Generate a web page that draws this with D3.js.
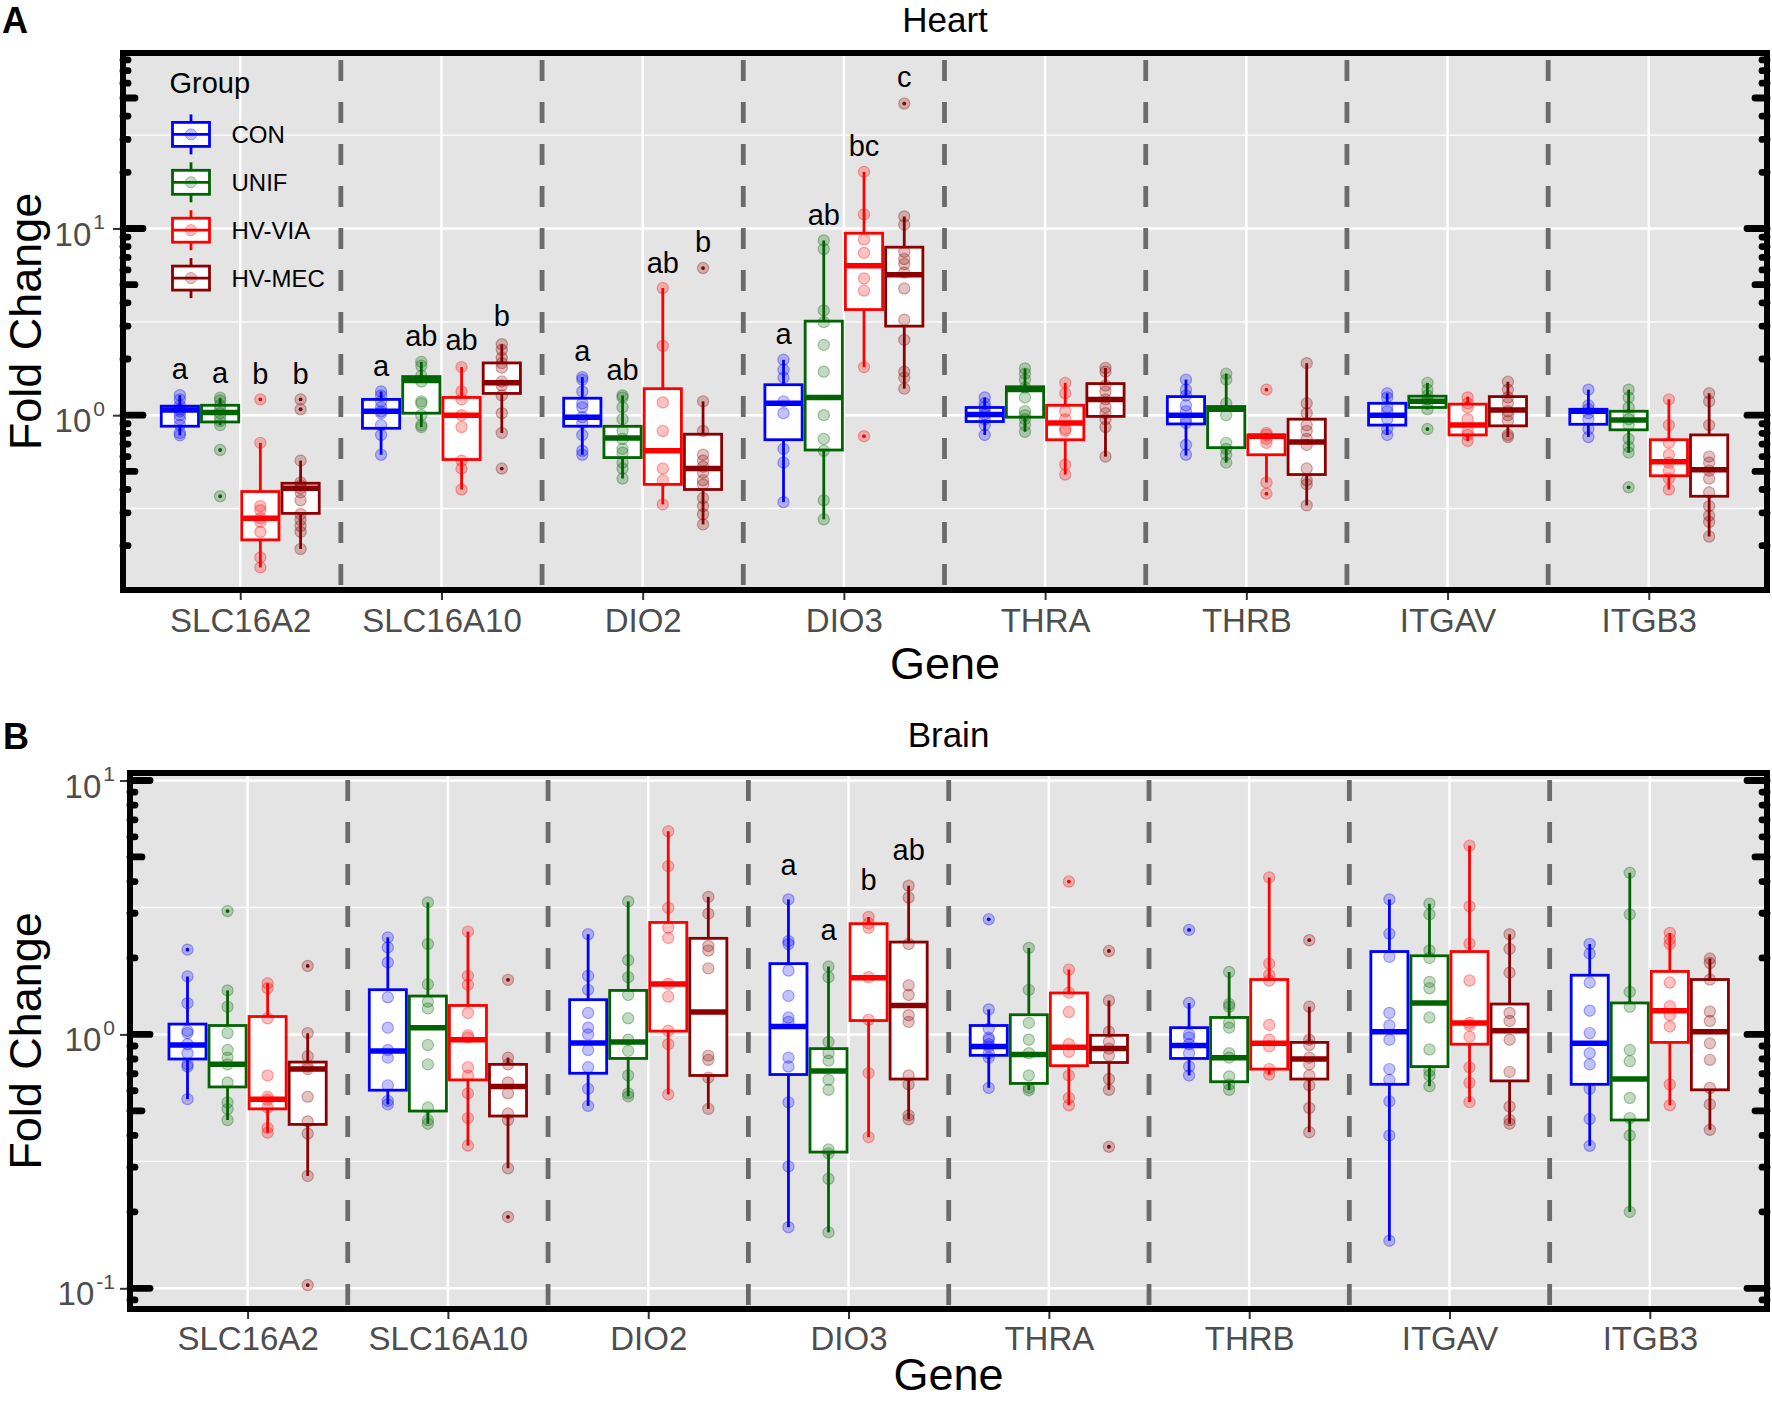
<!DOCTYPE html>
<html>
<head>
<meta charset="utf-8">
<script src="https://cdn.jsdelivr.net/npm/d3@7"></script>
<style>
  body { margin: 0; background: #fff; }
  svg { display: block; font-family: "Liberation Sans", Arial, sans-serif; }
</style>
</head>
<body>
<svg id="chart" width="1772" height="1401"></svg>
<script>
// Genes on the x axis and the four treatment groups
const genes = ['SLC16A2', 'SLC16A10', 'DIO2', 'DIO3', 'THRA', 'THRB', 'ITGAV', 'ITGB3'];
const groups = ['CON', 'UNIF', 'HV-VIA', 'HV-MEC'];
const groupColors = ['#0000ff', '#006400', '#ff0000', '#8b0000'];

// Heart: box stats per gene, groups in order, [lower whisker, Q1, median, Q3, upper whisker]
const heartBoxes = [
  [[0.78, 0.873, 1.065, 1.118, 1.28], [0.885, 0.92, 1.035, 1.13, 1.24], [0.153, 0.215, 0.281, 0.39, 0.711], [0.192, 0.298, 0.406, 0.432, 0.571]],
  [[0.614, 0.851, 1.05, 1.215, 1.34], [0.864, 1.025, 1.536, 1.61, 1.93], [0.40, 0.579, 1.0, 1.245, 1.81], [0.803, 1.308, 1.49, 1.905, 2.4]],
  [[0.614, 0.873, 0.976, 1.233, 1.6], [0.458, 0.593, 0.754, 0.872, 1.276], [0.333, 0.426, 0.645, 1.387, 4.8], [0.26, 0.4, 0.518, 0.791, 1.186]],
  [[0.342, 0.739, 1.158, 1.456, 1.98], [0.277, 0.651, 1.245, 3.19, 8.63], [1.81, 3.68, 6.32, 9.43, 20.1], [1.387, 3.0, 5.65, 7.94, 11.6]],
  [[0.784, 0.925, 1.01, 1.10, 1.245], [0.815, 0.976, 1.373, 1.42, 1.78], [0.481, 0.739, 0.907, 1.13, 1.49], [0.60, 0.985, 1.215, 1.477, 1.79]],
  [[0.608, 0.898, 1.0, 1.258, 1.551], [0.557, 0.67, 1.076, 1.113, 1.67], [0.436, 0.614, 0.772, 0.784, 0.803], [0.329, 0.481, 0.718, 0.952, 1.9]],
  [[0.784, 0.885, 1.0, 1.158, 1.31], [1.076, 1.10, 1.186, 1.264, 1.49], [0.728, 0.784, 0.885, 1.146, 1.258], [0.764, 0.877, 1.065, 1.258, 1.51]],
  [[0.764, 0.894, 1.05, 1.076, 1.37], [0.63, 0.835, 0.943, 1.05, 1.37], [0.40, 0.474, 0.563, 0.739, 1.216], [0.224, 0.368, 0.51, 0.784, 1.31]]
];

// Heart: individual samples (fold change)
const heartPoints = [
  [[1.28, 1.216, 1.13, 1.076, 1.05, 1.0, 0.952, 0.885, 0.803, 0.78],
   [1.24, 1.2, 1.13, 1.076, 1.025, 0.976, 0.93, 0.885, 0.651, 0.368],
   [1.215, 0.711, 0.326, 0.31, 0.281, 0.268, 0.237, 0.173, 0.153],
   [1.215, 1.076, 0.571, 0.436, 0.42, 0.406, 0.386, 0.35, 0.295, 0.275, 0.255, 0.237, 0.192]],
  [[1.34, 1.276, 1.186, 1.103, 1.05, 1.025, 0.885, 0.784, 0.614],
   [1.93, 1.84, 1.629, 1.514, 1.186, 1.158, 1.0, 0.885, 0.864],
   [1.81, 1.34, 1.216, 1.0, 0.864, 0.571, 0.518, 0.40],
   [2.4, 2.24, 2.03, 1.9, 1.796, 1.514, 1.442, 1.276, 1.025, 0.803, 0.518]],
  [[1.6, 1.551, 1.34, 1.158, 1.103, 0.976, 0.907, 0.784, 0.645, 0.614],
   [1.276, 1.245, 1.103, 0.952, 0.823, 0.746, 0.66, 0.63, 0.557, 0.518, 0.458],
   [4.8, 2.35, 1.17, 0.823, 0.518, 0.448, 0.333],
   [6.14, 1.186, 0.823, 0.614, 0.571, 0.53, 0.493, 0.448, 0.426, 0.36, 0.326, 0.295, 0.26]],
  [[1.98, 1.75, 1.59, 1.186, 1.025, 0.66, 0.557, 0.342],
   [8.63, 7.76, 3.64, 3.15, 2.38, 1.71, 1.0, 0.746, 0.645, 0.35, 0.277],
   [20.1, 11.9, 8.73, 7.4, 5.4, 4.65, 1.81, 0.772],
   [46.7, 11.6, 10.5, 7.5, 6.86, 6.45, 5.8, 4.77, 3.25, 2.53, 1.71, 1.59, 1.387]],
  [[1.245, 1.158, 1.103, 1.05, 1.01, 0.952, 0.885, 0.784],
   [1.78, 1.67, 1.551, 1.407, 1.245, 1.05, 1.0, 0.952, 0.885, 0.815],
   [1.49, 1.31, 1.05, 0.952, 0.843, 0.823, 0.543, 0.481],
   [1.79, 1.71, 1.442, 1.34, 1.216, 1.103, 1.025, 0.952, 0.864, 0.60]],
  [[1.551, 1.37, 1.276, 1.13, 1.05, 0.952, 0.907, 0.693, 0.614],
   [1.67, 1.551, 1.158, 1.0, 0.711, 0.66, 0.614, 0.557],
   [1.37, 0.803, 0.784, 0.746, 0.711, 0.436, 0.38],
   [1.9, 1.158, 1.025, 0.885, 0.823, 0.746, 0.693, 0.518, 0.448, 0.426, 0.329]],
  [[1.31, 1.245, 1.103, 1.05, 0.952, 0.843, 0.784],
   [1.49, 1.37, 1.276, 1.216, 1.158, 1.076, 0.843],
   [1.245, 1.158, 1.103, 0.952, 0.823, 0.784, 0.728],
   [1.51, 1.37, 1.245, 1.158, 1.05, 1.0, 0.93, 0.784, 0.764]],
  [[1.37, 1.13, 1.076, 1.025, 0.952, 0.843, 0.764],
   [1.37, 1.245, 1.103, 1.0, 0.952, 0.885, 0.746, 0.677, 0.63, 0.411],
   [1.216, 0.885, 0.711, 0.614, 0.557, 0.505, 0.458, 0.40],
   [1.31, 1.186, 0.885, 0.60, 0.557, 0.505, 0.458, 0.386, 0.326, 0.29, 0.268, 0.224]]
];

// Heart: boxplot outliers
const heartOutliers = [
  [[], [0.651, 0.368], [1.215], [1.215, 1.076]],
  [[], [], [], [0.518]],
  [[], [], [], [6.14]],
  [[], [], [0.772], [46.7]],
  [[], [], [], []],
  [[], [], [1.37, 0.38], []],
  [[], [0.843], [], []],
  [[], [0.411], [], []]
];

// Heart: significance letters [gene, group, label, fold change at baseline]
const heartLetters = [
  ['SLC16A2', 'CON', 'a', 1.566], ['SLC16A2', 'UNIF', 'a', 1.492], ['SLC16A2', 'HV-VIA', 'b', 1.463], ['SLC16A2', 'HV-MEC', 'b', 1.463],
  ['SLC16A10', 'CON', 'a', 1.613], ['SLC16A10', 'UNIF', 'ab', 2.35], ['SLC16A10', 'HV-VIA', 'ab', 2.238], ['SLC16A10', 'HV-MEC', 'b', 2.996],
  ['DIO2', 'CON', 'a', 1.961], ['DIO2', 'UNIF', 'ab', 1.551], ['DIO2', 'HV-VIA', 'ab', 5.79], ['DIO2', 'HV-MEC', 'b', 7.46],
  ['DIO3', 'CON', 'a', 2.407], ['DIO3', 'UNIF', 'ab', 10.5], ['DIO3', 'HV-VIA', 'bc', 24.4], ['DIO3', 'HV-MEC', 'c', 57.4]
];

// Brain: box stats
const brainBoxes = [
  [[0.556, 0.80, 0.908, 1.098, 1.69], [0.46, 0.621, 0.762, 1.084, 1.49], [0.41, 0.509, 0.556, 1.176, 1.59], [0.277, 0.442, 0.73, 0.778, 1.01]],
  [[0.53, 0.603, 0.861, 1.50, 2.41], [0.445, 0.499, 1.063, 1.416, 3.31], [0.365, 0.662, 0.952, 1.30, 2.54], [0.297, 0.477, 0.623, 0.762, 0.81]],
  [[0.523, 0.703, 0.926, 1.37, 2.48], [0.57, 0.804, 0.934, 1.49, 3.34], [0.58, 1.03, 1.58, 2.76, 6.31], [0.509, 0.689, 1.224, 2.39, 3.48]],
  [[0.174, 0.695, 1.075, 1.90, 3.40], [0.166, 0.344, 0.718, 0.879, 1.85], [0.394, 1.134, 1.67, 2.73, 2.9], [0.463, 0.667, 1.30, 2.31, 3.85]],
  [[0.616, 0.827, 0.897, 1.084, 1.254], [0.603, 0.641, 0.834, 1.195, 2.19], [0.526, 0.753, 0.889, 1.456, 1.80], [0.605, 0.775, 0.879, 0.992, 1.36]],
  [[0.689, 0.804, 0.904, 1.063, 1.33], [0.605, 0.651, 0.81, 1.166, 1.76], [0.695, 0.73, 0.922, 1.645, 4.15], [0.412, 0.667, 0.80, 0.93, 1.285]],
  [[0.154, 0.636, 1.024, 2.12, 3.4], [0.625, 0.747, 1.33, 2.04, 3.27], [0.541, 0.915, 1.11, 2.12, 5.54], [0.445, 0.656, 1.033, 1.317, 2.48]],
  [[0.364, 0.636, 0.922, 1.71, 2.27], [0.20, 0.46, 0.667, 1.33, 4.33], [0.526, 0.93, 1.24, 1.77, 2.51], [0.421, 0.605, 1.024, 1.645, 1.99]]
];

// Brain: individual samples
const brainPoints = [
  [[2.157, 1.692, 1.327, 1.033, 1.012, 0.915, 0.843, 0.762, 0.747, 0.556],
   [3.06, 1.49, 1.285, 1.012, 0.868, 0.81, 0.762, 0.647, 0.54, 0.508, 0.46],
   [1.59, 1.52, 1.157, 0.689, 0.568, 0.552, 0.515, 0.428, 0.41],
   [1.86, 1.012, 0.82, 0.747, 0.73, 0.568, 0.454, 0.407, 0.277, 0.103]],
  [[2.41, 2.2, 1.92, 1.4, 1.063, 0.868, 0.81, 0.63, 0.547, 0.53],
   [3.31, 2.27, 1.575, 1.345, 1.265, 0.908, 0.762, 0.515, 0.46, 0.445],
   [2.54, 1.7, 1.568, 1.215, 0.992, 0.972, 0.742, 0.689, 0.586, 0.468, 0.365],
   [1.64, 0.81, 0.762, 0.647, 0.586, 0.488, 0.46, 0.297, 0.191]],
  [[2.48, 1.7, 1.498, 1.215, 1.063, 1.0, 0.868, 0.742, 0.61, 0.523],
   [3.34, 1.96, 1.68, 1.43, 1.157, 0.953, 0.861, 0.689, 0.586, 0.57],
   [6.31, 4.6, 3.15, 2.63, 2.4, 1.58, 1.41, 1.033, 0.915, 0.58],
   [3.48, 2.99, 2.23, 2.14, 1.82, 0.825, 0.794, 0.675, 0.509]],
  [[3.4, 2.33, 2.27, 1.785, 1.418, 1.165, 1.12, 0.81, 0.747, 0.54, 0.302, 0.174],
   [1.85, 1.68, 0.934, 0.843, 0.788, 0.662, 0.605, 0.352, 0.34, 0.27, 0.166],
   [2.9, 2.74, 2.63, 1.68, 1.142, 0.704, 0.394],
   [3.85, 3.46, 2.27, 1.56, 1.43, 1.19, 1.12, 0.689, 0.635, 0.48, 0.463]],
  [[2.84, 1.254, 1.054, 0.97, 0.953, 0.915, 0.897, 0.843, 0.81, 0.616],
   [2.19, 1.498, 1.11, 0.953, 0.843, 0.689, 0.616, 0.603],
   [4.0, 1.80, 1.46, 1.225, 0.915, 0.854, 0.689, 0.562, 0.526],
   [2.13, 1.36, 1.025, 0.934, 0.879, 0.825, 0.667, 0.605, 0.361]],
  [[2.58, 1.33, 1.0, 0.972, 0.915, 0.843, 0.747, 0.689],
   [1.76, 1.317, 1.285, 1.11, 1.063, 0.843, 0.81, 0.683, 0.635, 0.605],
   [4.15, 1.9, 1.715, 1.63, 1.09, 0.953, 0.897, 0.73, 0.695],
   [2.35, 1.285, 0.953, 0.908, 0.81, 0.762, 0.689, 0.63, 0.513, 0.412]],
  [[3.4, 2.49, 2.02, 1.215, 1.085, 0.953, 0.73, 0.662, 0.545, 0.40, 0.154],
   [3.27, 2.97, 2.14, 2.0, 1.61, 1.52, 1.165, 0.872, 0.718, 0.689, 0.625],
   [5.54, 3.19, 2.28, 1.63, 1.11, 1.085, 0.98, 0.742, 0.645, 0.541],
   [2.48, 2.17, 1.75, 1.215, 1.13, 0.953, 0.712, 0.52, 0.46, 0.445]],
  [[2.27, 2.08, 1.6, 1.24, 1.012, 0.843, 0.762, 0.61, 0.464, 0.364],
   [4.33, 2.97, 1.47, 1.285, 0.868, 0.784, 0.562, 0.468, 0.40, 0.20],
   [2.51, 2.37, 2.27, 1.6, 1.29, 1.19, 1.075, 0.635, 0.526],
   [1.99, 1.91, 1.645, 1.23, 1.13, 0.922, 0.794, 0.615, 0.53, 0.421]]
];

// Brain: boxplot outliers
const brainOutliers = [
  [[2.157], [3.06], [], [1.86, 0.103]],
  [[], [], [], [1.64, 0.191]],
  [[], [], [], []],
  [[], [], [], []],
  [[2.84], [], [4.0], [2.13, 0.361]],
  [[2.58], [], [], [2.35]],
  [[], [], [], []],
  [[], [], [], []]
];

const brainLetters = [
  ['DIO3', 'CON', 'a', 4.26], ['DIO3', 'UNIF', 'a', 2.35], ['DIO3', 'HV-VIA', 'b', 3.69], ['DIO3', 'HV-MEC', 'ab', 4.86]
];

const svg = d3.select('#chart');
const defs = svg.append('defs');

function drawPanel(p) {
  const root = svg.append('g');
  const L = p.left, R = p.right, T = p.top, B = p.bottom;

  const x = d3.scalePoint().domain(genes).range(p.xRange).padding(0.6);
  const step = x.step();
  const dodge = d3.scaleBand().domain(groups)
      .range([-0.4 * step, 0.4 * step])
      .paddingInner(0.075).paddingOuter(0.0375);
  const bw = dodge.bandwidth();
  const cx = (gene, grp) => x(gene) + dodge(grp) + bw / 2;

  // log scale anchored on the decade positions
  const y = d3.scaleLog().domain([1, 10]).range([p.y1, p.y10]);
  const lo = y.invert(B), hi = y.invert(T);
  const kMin = Math.floor(Math.log10(lo)), kMax = Math.ceil(Math.log10(hi));
  const decades = d3.range(kMin, kMax + 1);
  const majors = decades.map(k => Math.pow(10, k)).filter(v => v >= lo && v <= hi);
  const minors = decades.map(k => Math.pow(10, k + 0.5)).filter(v => v >= lo && v <= hi);

  root.append('rect')
      .attr('x', L).attr('y', T)
      .attr('width', R - L).attr('height', B - T)
      .attr('fill', '#e4e4e4');

  defs.append('clipPath').attr('id', 'clip-' + p.id)
    .append('rect').attr('x', L).attr('y', T).attr('width', R - L).attr('height', B - T);

  const plot = root.append('g').attr('clip-path', `url(#clip-${p.id})`);

  // grid
  plot.selectAll('.minor').data(minors).join('line')
      .attr('x1', L).attr('x2', R)
      .attr('y1', d => y(d)).attr('y2', d => y(d))
      .attr('stroke', '#fff').attr('stroke-width', 1.4);
  plot.selectAll('.major').data(majors).join('line')
      .attr('x1', L).attr('x2', R)
      .attr('y1', d => y(d)).attr('y2', d => y(d))
      .attr('stroke', '#fff').attr('stroke-width', 2.5);
  plot.selectAll('.vgrid').data(genes).join('line')
      .attr('x1', d => x(d)).attr('x2', d => x(d))
      .attr('y1', T).attr('y2', B)
      .attr('stroke', '#fff').attr('stroke-width', 2.5);

  // dashed separators between genes
  plot.selectAll('.sep').data(genes.slice(1)).join('line')
      .attr('x1', d => x(d) - step / 2).attr('x2', d => x(d) - step / 2)
      .attr('y1', T).attr('y2', B)
      .attr('stroke', '#6b6b6b').attr('stroke-width', 4.8)
      .attr('stroke-dasharray', '21,21').attr('stroke-dashoffset', 35);

  // flatten boxes
  const boxData = [];
  p.boxes.forEach((row, gi) => row.forEach((s, k) => {
    boxData.push({ gene: genes[gi], grp: groups[k], k, s, pts: p.points[gi][k], out: p.outliers[gi][k] });
  }));

  const bx = plot.selectAll('.box').data(boxData).join('g')
      .attr('class', 'box')
      .attr('stroke', d => groupColors[d.k]);

  bx.append('line')
      .attr('x1', d => cx(d.gene, d.grp)).attr('x2', d => cx(d.gene, d.grp))
      .attr('y1', d => y(d.s[0])).attr('y2', d => y(d.s[1]))
      .attr('stroke-width', 2.8);
  bx.append('line')
      .attr('x1', d => cx(d.gene, d.grp)).attr('x2', d => cx(d.gene, d.grp))
      .attr('y1', d => y(d.s[3])).attr('y2', d => y(d.s[4]))
      .attr('stroke-width', 2.8);
  bx.append('rect')
      .attr('x', d => cx(d.gene, d.grp) - bw / 2)
      .attr('y', d => y(d.s[3]))
      .attr('width', bw)
      .attr('height', d => y(d.s[1]) - y(d.s[3]))
      .attr('fill', '#fff')
      .attr('stroke-width', 2.8);
  bx.append('line')
      .attr('x1', d => cx(d.gene, d.grp) - bw / 2).attr('x2', d => cx(d.gene, d.grp) + bw / 2)
      .attr('y1', d => y(d.s[2])).attr('y2', d => y(d.s[2]))
      .attr('stroke-width', 5.5);

  // boxplot outlier dots
  bx.selectAll('.out').data(d => d.out.map(v => ({ v, d }))).join('circle')
      .attr('cx', o => cx(o.d.gene, o.d.grp))
      .attr('cy', o => y(o.v))
      .attr('r', 1.9)
      .attr('stroke', 'none')
      .attr('fill', o => groupColors[o.d.k]);

  // sample points
  bx.selectAll('.pt').data(d => d.pts.map(v => ({ v, d }))).join('circle')
      .attr('cx', o => cx(o.d.gene, o.d.grp))
      .attr('cy', o => y(o.v))
      .attr('r', 5.6)
      .attr('fill', o => groupColors[o.d.k])
      .attr('fill-opacity', 0.24)
      .attr('stroke', o => groupColors[o.d.k])
      .attr('stroke-opacity', 0.33)
      .attr('stroke-width', 1.2);

  // significance letters
  root.selectAll('.letter').data(p.letters).join('text')
      .attr('x', d => cx(d[0], d[1]))
      .attr('y', d => y(d[3]))
      .attr('text-anchor', 'middle')
      .attr('font-size', 29)
      .attr('fill', '#000')
      .text(d => d[2]);

  // log ticks on both sides
  const logTicks = [];
  decades.forEach(k => d3.range(1, 10).forEach(m => {
    const v = m * Math.pow(10, k);
    if (v >= lo && v <= hi) logTicks.push({ v, len: m === 1 ? 20 : (m === 5 ? 12 : 5) });
  }));
  const lt = root.append('g').attr('stroke', '#000').attr('stroke-width', 6.8).attr('stroke-linecap', 'round');
  lt.selectAll('.lt-l').data(logTicks).join('line')
      .attr('x1', L).attr('x2', d => L + d.len)
      .attr('y1', d => y(d.v)).attr('y2', d => y(d.v));
  lt.selectAll('.lt-r').data(logTicks).join('line')
      .attr('x1', R).attr('x2', d => R - d.len)
      .attr('y1', d => y(d.v)).attr('y2', d => y(d.v));

  // panel border
  root.append('rect')
      .attr('x', L).attr('y', T)
      .attr('width', R - L).attr('height', B - T)
      .attr('fill', 'none').attr('stroke', '#000').attr('stroke-width', 6);

  // x axis
  const xAxis = root.append('g')
      .attr('transform', `translate(0,${B + 3})`)
      .call(d3.axisBottom(x).tickSize(7).tickSizeOuter(0));
  xAxis.select('.domain').remove();
  xAxis.selectAll('.tick line').attr('stroke', '#333').attr('stroke-width', 2);
  xAxis.selectAll('.tick text')
      .attr('y', p.xLabelOffset).attr('dy', null)
      .attr('font-size', 33).attr('fill', '#4d4d4d')
      .attr('font-family', '"Liberation Sans", Arial, sans-serif');

  // y axis with 10^k labels
  const yAxis = root.append('g')
      .attr('transform', `translate(${L - 3},0)`)
      .call(d3.axisLeft(y).tickValues(majors).tickSize(7).tickFormat(''));
  yAxis.select('.domain').remove();
  yAxis.selectAll('.tick line').attr('stroke', '#333').attr('stroke-width', 2);
  yAxis.selectAll('.tick text')
      .attr('x', p.yLabelEnd - (L - 3)).attr('y', 16.5).attr('dy', null)
      .attr('text-anchor', 'end')
      .attr('font-size', 33).attr('fill', '#4d4d4d')
      .attr('font-family', '"Liberation Sans", Arial, sans-serif')
      .each(function (d) {
        const t = d3.select(this);
        t.text(null);
        t.append('tspan').text('10');
        t.append('tspan').attr('dx', 2).attr('dy', -16.5).attr('font-size', 21).text(Math.round(Math.log10(d)));
      });

  // titles
  svg.append('text')
      .attr('x', (L + R) / 2).attr('y', p.titleY)
      .attr('text-anchor', 'middle').attr('font-size', 35)
      .text(p.title);
  svg.append('text')
      .attr('x', p.tagX).attr('y', p.tagY)
      .attr('font-size', 36).attr('font-weight', 'bold')
      .text(p.tag);
  svg.append('text')
      .attr('x', (L + R) / 2).attr('y', p.geneY)
      .attr('text-anchor', 'middle').attr('font-size', 45)
      .text('Gene');
  svg.append('text')
      .attr('transform', `translate(41,${(T + B) / 2}) rotate(-90)`)
      .attr('text-anchor', 'middle').attr('font-size', 45)
      .text('Fold Change');
}

drawPanel({
  id: 'heart', title: 'Heart', tag: 'A', tagX: 2, tagY: 33, titleY: 32,
  left: 123, right: 1767, top: 53, bottom: 590,
  xRange: [119.5, 1769.5], y1: 415.2, y10: 228.5,
  xLabelOffset: 39, yLabelEnd: 105, geneY: 679,
  boxes: heartBoxes, points: heartPoints, outliers: heartOutliers, letters: heartLetters
});

drawPanel({
  id: 'brain', title: 'Brain', tag: 'B', tagX: 3, tagY: 749, titleY: 747,
  left: 130, right: 1767, top: 773, bottom: 1309,
  xRange: [127.4, 1770], y1: 1034.4, y10: 780.5,
  xLabelOffset: 38, yLabelEnd: 115, geneY: 1390,
  boxes: brainBoxes, points: brainPoints, outliers: brainOutliers, letters: brainLetters
});

// legend (inside heart panel)
const legend = svg.append('g');
legend.append('text')
    .attr('x', 169.5).attr('y', 93)
    .attr('font-size', 29)
    .text('Group');
const keys = legend.selectAll('.key').data(groups).join('g')
    .attr('transform', (d, i) => `translate(191,${134.4 + i * 47.9})`);
keys.append('line')
    .attr('x1', 0).attr('x2', 0).attr('y1', -20).attr('y2', 20)
    .attr('stroke', (d, i) => groupColors[i]).attr('stroke-width', 2.8);
keys.append('rect')
    .attr('x', -18.5).attr('y', -12).attr('width', 37).attr('height', 24)
    .attr('fill', '#fff')
    .attr('stroke', (d, i) => groupColors[i]).attr('stroke-width', 2.8);
keys.append('line')
    .attr('x1', -18.5).attr('x2', 18.5).attr('y1', 0).attr('y2', 0)
    .attr('stroke', (d, i) => groupColors[i]).attr('stroke-width', 2.8);
keys.append('circle')
    .attr('r', 5.6)
    .attr('fill', (d, i) => groupColors[i]).attr('fill-opacity', 0.24)
    .attr('stroke', (d, i) => groupColors[i]).attr('stroke-opacity', 0.33);
keys.append('text')
    .attr('x', 40.5).attr('y', 8.6)
    .attr('font-size', 24)
    .text(d => d);
</script>
</body>
</html>
